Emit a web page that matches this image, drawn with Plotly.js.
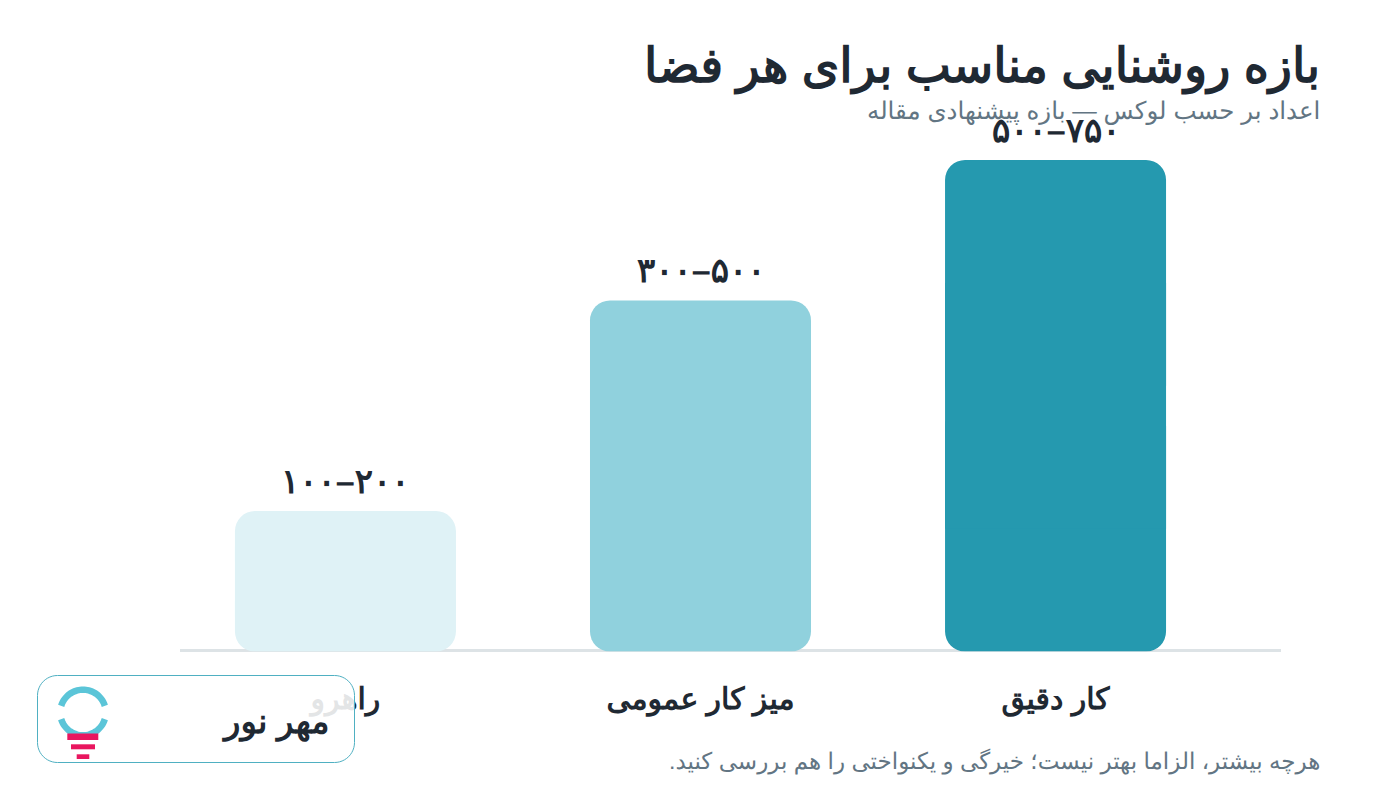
<!DOCTYPE html>
<html>
<head>
<meta charset="utf-8">
<script src="https://cdn.plot.ly/plotly-3.0.1.min.js"></script>
<style>html,body{margin:0;padding:0;background:#fff}#chart{width:1400px;height:800px}
svg text{text-rendering:geometricPrecision !important}</style>
</head>
<body>
<div id="chart"></div>
<script>
const categories = ["راهرو", "میز کار عمومی", "کار دقیق"];
const barValues = [200, 500, 700];
const rangeLabels = ["۱۰۰–۲۰۰", "۳۰۰–۵۰۰", "۵۰۰–۷۵۰"];
const barColors = ["#dff2f6", "#90d1dd", "#2599af"];
const titleText = "بازه روشنایی مناسب برای هر فضا";
const subtitleText = "اعداد بر حسب لوکس — بازه پیشنهادی مقاله";
const footerText = "هرچه بیشتر، الزاما بهتر نیست؛ خیرگی و یکنواختی را هم بررسی کنید.\u200F";
const brandText = "مهر نور";

const FONT = '"Liberation Sans", sans-serif';
const INK = "#1f2933", MUTED = "#627583";
const W = 1400, H = 800;
const fx = x => x / W;
const fy = y => 1 - y / H;

// Three stacked pieces: a square middle plus two rounded ends, so both ends of each bar are rounded.
const half = barValues.map(v => v / 2);
const quarter = barValues.map(v => v / 4);
const common = {
  type: "bar", x: categories,
  hoverinfo: "skip", showlegend: false
};
const traces = [
  Object.assign({}, common, {base: half, y: half, marker: {color: barColors, line: {width: 0}, cornerradius: 20}}),
  Object.assign({}, common, {base: half, y: half.map(v => -v), marker: {color: barColors, line: {width: 0}, cornerradius: 20}}),
  Object.assign({}, common, {base: quarter, y: half, marker: {color: barColors, line: {width: 0}}})
];

function poly(points) {
  return "M" + points.map(p => fx(p[0]) + "," + fy(p[1])).join("L");
}
function arc(cx, cy, r, a0, a1) {
  const pts = [];
  for (let i = 0; i <= 40; i++) {
    const a = (a0 + (a1 - a0) * i / 40) * Math.PI / 180;
    pts.push([cx + r * Math.cos(a), cy - r * Math.sin(a)]);
  }
  return poly(pts);
}
function rrect(x0, y0, x1, y1, r) {
  const c = (cx, cy, a0, a1) => {
    const p = [];
    for (let i = 0; i <= 12; i++) {
      const a = (a0 + (a1 - a0) * i / 12) * Math.PI / 180;
      p.push([cx + r * Math.cos(a), cy - r * Math.sin(a)]);
    }
    return p;
  };
  return poly([].concat(c(x1 - r, y0 + r, 90, 0), c(x1 - r, y1 - r, 0, -90),
                        c(x0 + r, y1 - r, -90, -180), c(x0 + r, y0 + r, 180, 90))) + "Z";
}
const paperShape = o => Object.assign({xref: "paper", yref: "paper"}, o);
const rectShape = (x0, y0, x1, y1, color, layer) => paperShape({
  type: "rect", x0: fx(x0), x1: fx(x1), y0: fy(y0), y1: fy(y1),
  fillcolor: color, line: {width: 0}, layer: layer || "above"
});

const shapes = [
  rectShape(180, 649, 1281, 652, "#dde3e6", "below"),
  paperShape({type: "path", path: rrect(37.5, 675.5, 354.5, 762.5, 20),
    fillcolor: "rgba(255,255,255,0.88)", line: {color: "#4fb0c2", width: 1}, layer: "above"}),
  paperShape({type: "path", path: arc(83, 712.5, 22.8, 163, 17),
    line: {color: "#5bc5d8", width: 6.5}, layer: "above"}),
  paperShape({type: "path", path: arc(83, 712.5, 22.8, -163, -17),
    line: {color: "#5bc5d8", width: 6.5}, layer: "above"}),
  rectShape(67.3, 733.5, 98.3, 740, "#e9165f"),
  rectShape(71, 744.3, 95, 749.3, "#e9165f"),
  rectShape(76.7, 754.3, 89.3, 759, "#e9165f")
];

const annotations = categories.map((c, i) => ({
  x: c, y: barValues[i], xref: "x", yref: "y", text: rangeLabels[i], showarrow: false,
  xanchor: "center", yanchor: "bottom", yshift: 8,
  font: {family: FONT, size: 34, color: INK, weight: 700}
})).concat([
  {x: fx(1322), y: fy(111), xref: "paper", yref: "paper", text: subtitleText, showarrow: false,
   xanchor: "right", yanchor: "middle", font: {family: FONT, size: 24.5, color: MUTED}},
  {x: fx(1322), y: fy(761), xref: "paper", yref: "paper", text: footerText, showarrow: false,
   xanchor: "right", yanchor: "middle", font: {family: FONT, size: 23, color: MUTED}},
  {x: fx(332), y: fy(722), xref: "paper", yref: "paper", text: brandText, showarrow: false,
   xanchor: "right", yanchor: "middle", font: {family: FONT, size: 34, color: INK, weight: 700}}
]);

const layout = {
  width: W, height: H, autosize: false,
  margin: {l: 0, r: 0, t: 0, b: 0, pad: 0},
  paper_bgcolor: "#ffffff", plot_bgcolor: "rgba(0,0,0,0)",
  font: {family: FONT},
  title: {text: titleText, x: fx(1320), xanchor: "right", xref: "paper",
          y: fy(65), yanchor: "middle", yref: "paper",
          font: {family: FONT, size: 48, color: INK, weight: 700}},
  barmode: "overlay", bargap: 0.3775,
  xaxis: {domain: [fx(180), fx(1281)], type: "category", range: [-0.466, 2.635], categoryorder: "array",
          categoryarray: categories, showgrid: false, zeroline: false, showline: false, ticks: "",
          ticklabelstandoff: 26, automargin: false,
          tickfont: {family: FONT, size: 30, color: INK, weight: 700}},
  yaxis: {domain: [fy(651.5), fy(160)], range: [0, 700], visible: false, fixedrange: true},
  shapes: shapes, annotations: annotations
};
Plotly.newPlot("chart", traces, layout, {displayModeBar: false, responsive: false});
</script>
</body>
</html>
